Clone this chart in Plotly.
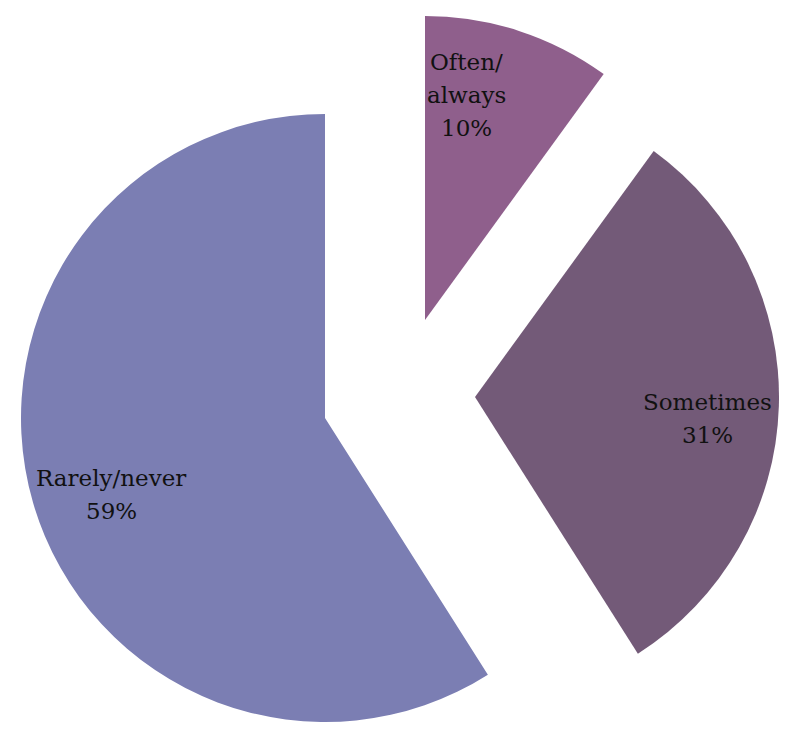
import plotly.graph_objects as go

# ---- data ----
categories = ["Often/always", "Sometimes", "Rarely/never"]
label_lines = [["Often/", "always"], ["Sometimes"], ["Rarely/never"]]
values = [10, 31, 59]
colors = ["#8f5f8c", "#735a78", "#7b7eb3"]

# ---- layout parameters (pixels, page coords) ----
PAD = 8                      # default body margin of the html page
W, H = 787 - 2 * PAD, 732 - 2 * PAD
R = 304
# exploded slice apex positions (page px)
centers = {
    "Often/always": (425, 320),
    "Sometimes": (475, 397),
    "Rarely/never": (325, 418),
}
# label anchor (centre x, first line y) in page px
label_pos = {
    "Often/always": (466, 62),
    "Sometimes": (707, 402),
    "Rarely/never": (111, 478),
}
LINE = 33


def px(x):
    return min(1.0, max(0.0, (x - PAD) / W))


def py(y):
    return min(1.0, max(0.0, 1 - (y - PAD) / H))


fig = go.Figure()
annotations = []
total = sum(values)
for i, cat in enumerate(categories):
    cx, cy = centers[cat]
    xd = [px(cx - R), px(cx + R)]
    yd = [py(cy + R), py(cy - R)]
    slice_colors = [colors[j] if j == i else "rgba(0,0,0,0)" for j in range(len(categories))]
    fig.add_trace(go.Pie(
        labels=categories,
        values=values,
        sort=False,
        direction="clockwise",
        rotation=0,
        marker=dict(colors=slice_colors, line=dict(width=0)),
        textinfo="none",
        domain=dict(x=xd, y=yd),
        showlegend=False,
        hoverinfo="label+percent",
    ))
    lx, ly = label_pos[cat]
    lines = label_lines[i] + [f"{round(100 * values[i] / total)}%"]
    for k, t in enumerate(lines):
        annotations.append(dict(
            text=t, x=px(lx), y=py(ly + k * LINE),
            xref="paper", yref="paper",
            xanchor="center", yanchor="middle",
            showarrow=False,
            font=dict(family="DejaVu Serif", size=23, color="#111111"),
        ))

fig.update_layout(
    width=W, height=H,
    margin=dict(l=0, r=0, t=0, b=0),
    paper_bgcolor="white",
    plot_bgcolor="white",
    annotations=annotations,
)

fig.write_html("out.html")
